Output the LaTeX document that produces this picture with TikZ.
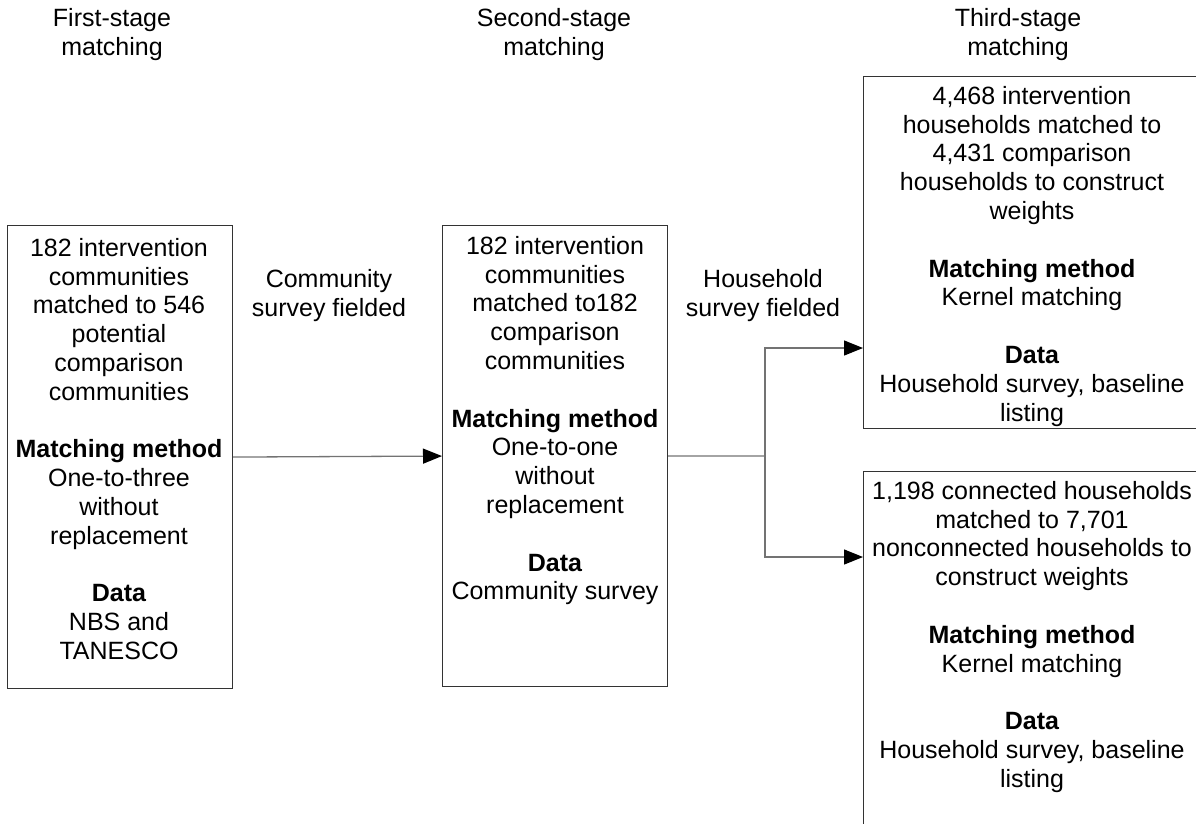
\documentclass[tikz,border=0pt]{standalone}
\usepackage{fontspec}
\setmainfont{Liberation Sans}
\usetikzlibrary{arrows.meta}
\begin{document}
\begin{tikzpicture}[x=1pt,y=-1pt,
  boxx/.style={draw=black!80, line width=1.1pt, rectangle, inner sep=0pt, anchor=north west},
  txt/.style={align=center, inner sep=0pt, anchor=north, font=\fontsize{25}{28.8}\selectfont},
  conn/.style={draw=black!55, line width=1.3pt},
  arr/.style={-{Triangle[length=19pt,width=15pt,color=black]}}
]
\useasboundingbox (0,0) rectangle (1196,823);
\clip (0,0) rectangle (1196,823);

% headers
\node[txt] (h1) at (112,8) {First-stage\\matching};
\node[txt] (h2) at (554,8) {Second-stage\\matching};
\node[txt] (h3) at (1018,8) {Third-stage\\matching};

% boxes
\node[boxx, minimum width=225pt, minimum height=463pt] (b1) at (7,225) {};
\node[boxx, minimum width=225pt, minimum height=461pt] (b2) at (442,225) {};
\node[boxx, minimum width=345pt, minimum height=352pt] (b3) at (863,76) {};
\node[boxx, minimum width=345pt, minimum height=400pt] (b4) at (863,471) {};

% box texts
\node[txt] (t1) at (119,238) {182 intervention\\communities\\matched to 546\\potential\\comparison\\communities\\[28.8pt]
  \textbf{Matching method}\\One-to-three\\without\\replacement\\[28.8pt]
  \textbf{Data}\\NBS and\\TANESCO};
\node[txt] (t2) at (555,236) {182 intervention\\communities\\matched to182\\comparison\\communities\\[28.8pt]
  \textbf{Matching method}\\One-to-one\\without\\replacement\\[28.8pt]
  \textbf{Data}\\Community survey};
\node[txt] (t3) at (1032,86) {4,468 intervention\\households matched to\\4,431 comparison\\households to construct\\weights\\[28.8pt]
  \textbf{Matching method}\\Kernel matching\\[28.8pt]
  \textbf{Data}\\Household survey, baseline\\listing};
\node[txt] (t4) at (1032,481) {1,198 connected households\\matched to 7,701\\nonconnected households to\\construct weights\\[28.8pt]
  \textbf{Matching method}\\Kernel matching\\[28.8pt]
  \textbf{Data}\\Household survey, baseline\\listing};

% connector labels
\node[txt] (l1) at (329,269) {Community\\survey fielded};
\node[txt] (l2) at (763,269) {Household\\survey fielded};

% connectors
\coordinate (j) at (765,456);
\coordinate (j1) at (765,348);
\coordinate (j2) at (765,557);
\draw[conn,arr] (b1.east) -- (b2.west);
\draw[conn] (b2.east) -- (j);
\draw[conn,arr] (j) |- (b3.west |- j1);
\draw[conn,arr] (j) |- (b4.west |- j2);
\end{tikzpicture}
\end{document}
